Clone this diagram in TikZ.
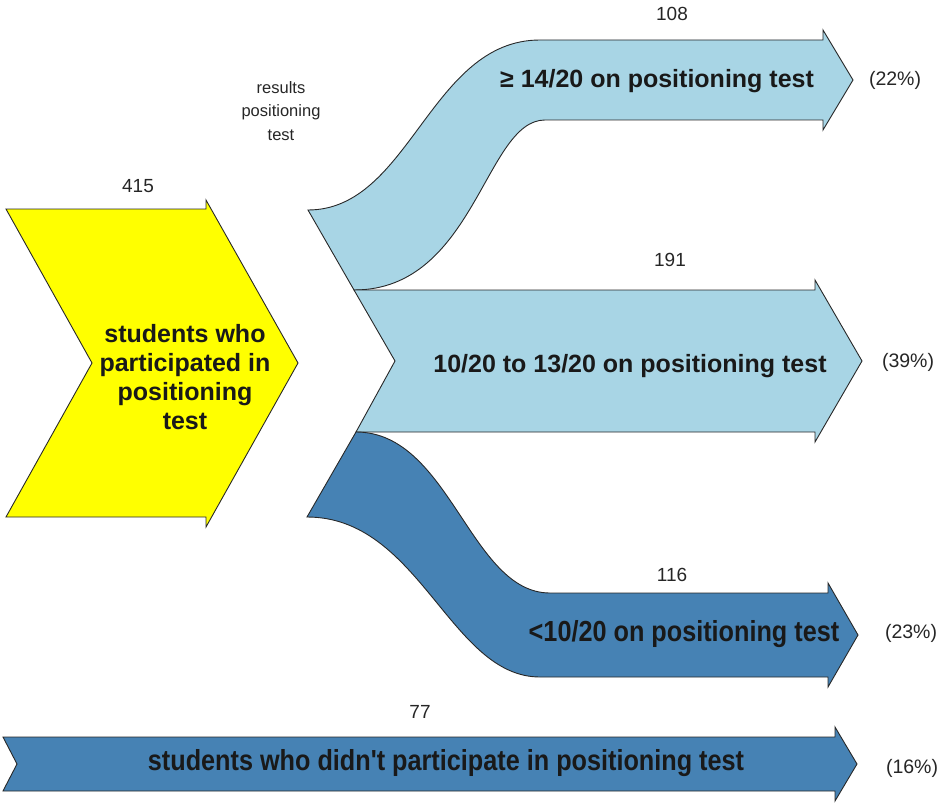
\documentclass[tikz,border=0pt]{standalone}
\usepackage{fontspec}
\usepackage{graphicx}
\setmainfont{Liberation Sans}[Ligatures=TeXOff]
\definecolor{yel}{RGB}{255,255,0}
\definecolor{lblue}{RGB}{168,213,229}
\definecolor{dblue}{RGB}{70,130,180}
\definecolor{edge}{RGB}{40,40,40}
\tikzset{
  band/.style={draw=edge, line width=0.9pt, line join=miter},
  lbl/.style={font=\fontsize{19}{22}\selectfont, inner sep=0pt, text=black!85},
  pct/.style={font=\fontsize{19.5}{22}\selectfont, inner sep=0pt, text=black!85},
  smalllbl/.style={font=\fontsize{16.5}{23.5}\selectfont, inner sep=0pt, align=center, text=black!85},
  bigtxt/.style={font=\fontsize{25}{29}\selectfont\bfseries, inner sep=0pt, text=black!90},
  condtxt/.style={font=\fontsize{29}{30}\selectfont\bfseries, inner sep=0pt, text=black!90},
}
\begin{document}
\begin{tikzpicture}[x=1pt,y=-1pt]
\useasboundingbox (0,0) rectangle (941,805);
% yellow chevron
\path[band, fill=yel] (6,209) -- (206,209) -- (206,200) -- (298,363) -- (206,527) -- (206,517) -- (6,517) -- (92,363) -- cycle;
% top light band (108)
\path[band, fill=lblue] (308,210) .. controls (410,210) and (430,40) .. (540,40) -- (823,40) -- (823,30) -- (853,80) -- (823,130) -- (823,120) -- (545,120) .. controls (485,120) and (475,290) .. (354,290) -- cycle;
% middle light band (191)
\path[band, fill=lblue] (354,290) -- (815,290) -- (815,280) -- (862,361) -- (815,442) -- (815,432) -- (356,432) -- (395,361) -- cycle;
% dark band (116)
\path[band, fill=dblue] (356,432) .. controls (450,432) and (470,593) .. (550,593) -- (828,593) -- (828,583) -- (858,635) -- (828,687) -- (828,677) -- (540,677) .. controls (450,677) and (420,517) .. (307,517) -- cycle;
% bottom dark band (77)
\path[band, fill=dblue] (3,737) -- (835,737) -- (835,727) -- (857,764) -- (835,801) -- (835,791) -- (3,791) -- (17,764) -- cycle;
% labels
\node[lbl] (n415) at (138,186) {415};
\node[smalllbl] (res) at (281,111) {results\\positioning\\test};
\node[lbl] (n108) at (672,14) {108};
\node[bigtxt] (t1) at (657,81) {≥ 14/20 on positioning test};
\node[pct] (p22) at (895,80) {(22\%)};
\node[lbl] (n191) at (670,260) {191};
\node[bigtxt] (t2) at (630,366) {10/20 to 13/20 on positioning test};
\node[pct] (p39) at (908,362) {(39\%)};
\node[lbl] (n116) at (672,575) {116};
\node[condtxt] (t3) at (684,634) {\scalebox{0.87}[1]{<10/20 on positioning test}};
\node[pct] (p23) at (911,633) {(23\%)};
\node[lbl] (n77) at (420,712) {77};
\node[condtxt] (t4) at (446,763) {\scalebox{0.87}[1]{students who didn't participate in positioning test}};
\node[pct] (p16) at (912,768) {(16\%)};
\node[bigtxt, align=center] (t0) at (185,377) {students who\\participated in\\positioning\\test};
\end{tikzpicture}
\end{document}
